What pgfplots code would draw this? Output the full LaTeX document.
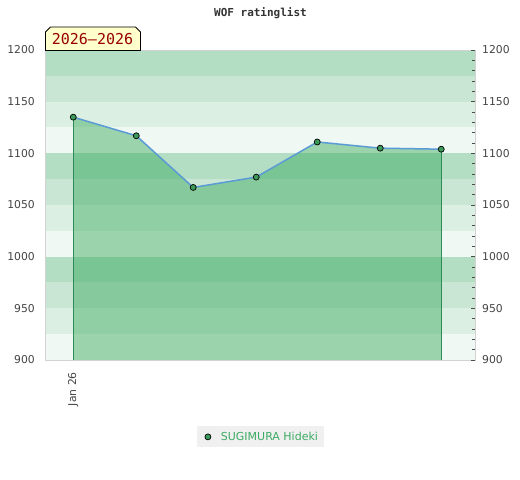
\documentclass[border=0pt]{standalone}
\usepackage{fontspec}
\setmainfont{DejaVu Sans}
\newfontfamily\monofont{DejaVu Sans Mono}
\usepackage{pgfplots}
\pgfplotsset{compat=1.18}
\definecolor{bandA}{HTML}{B3DEC4}
\definecolor{bandB}{HTML}{C9E6D4}
\definecolor{bandC}{HTML}{DCEFE3}
\definecolor{bandD}{HTML}{EFF8F2}
\definecolor{areagreen}{HTML}{3BAA5E}
\definecolor{linegreen}{HTML}{2E8B57}
\definecolor{markgreen}{HTML}{3A9A5A}
\definecolor{lineblue}{HTML}{5B9BD5}
\definecolor{txtgray}{HTML}{444444}
\definecolor{legtxt}{HTML}{3CAA64}
\definecolor{labelyellow}{HTML}{FFFFCC}
\definecolor{darkred}{HTML}{990000}
\begin{document}
\begin{tikzpicture}
\useasboundingbox (0,0) rectangle (520bp,480bp);
\begin{axis}[
  at={(45bp,120bp)}, anchor=south west,
  scale only axis, width=430bp, height=310bp,
  xmin=-13.9, xmax=197.6, ymin=900, ymax=1200,
  axis on top=true,
  axis line style={draw=gray!35},
  ytick={900,950,...,1200},
  xtick={0}, xticklabels={Jan 26},
  tick style={draw=none},
  /pgf/number format/assume math mode=true,
  /pgf/number format/1000 sep={},
  yticklabel pos=left,
  tick label style={font=\fontsize{10.8bp}{13bp}\selectfont, text=txtgray, inner sep=0pt},
  yticklabel shift=10bp,
  x tick label style={rotate=90, anchor=east},
  xticklabel shift=12bp,
  legend style={at={(0.501,-0.248)}, anchor=center, fill=gray!12, draw=none,
    font=\fontsize{11bp}{13bp}\selectfont, text=legtxt, inner xsep=4bp, inner ysep=3.5bp},
  legend cell align=left,
]
\fill[bandA] (axis cs:-13.9,1175) rectangle (axis cs:197.6,1200);
\fill[bandB] (axis cs:-13.9,1150) rectangle (axis cs:197.6,1175);
\fill[bandC] (axis cs:-13.9,1125) rectangle (axis cs:197.6,1150);
\fill[bandD] (axis cs:-13.9,1100) rectangle (axis cs:197.6,1125);
\fill[bandA] (axis cs:-13.9,1075) rectangle (axis cs:197.6,1100);
\fill[bandB] (axis cs:-13.9,1050) rectangle (axis cs:197.6,1075);
\fill[bandC] (axis cs:-13.9,1025) rectangle (axis cs:197.6,1050);
\fill[bandD] (axis cs:-13.9,1000) rectangle (axis cs:197.6,1025);
\fill[bandA] (axis cs:-13.9,975) rectangle (axis cs:197.6,1000);
\fill[bandB] (axis cs:-13.9,950) rectangle (axis cs:197.6,975);
\fill[bandC] (axis cs:-13.9,925) rectangle (axis cs:197.6,950);
\fill[bandD] (axis cs:-13.9,900) rectangle (axis cs:197.6,925);
\addplot[draw=none, fill=areagreen, fill opacity=0.47, forget plot]
  coordinates {(0,1135)(31,1117)(59,1067)(90,1077)(120,1111)(151,1105)(181,1104)} \closedcycle;
\addplot[linegreen, line width=0.8bp, forget plot] coordinates {(0,900)(0,1135)};
\addplot[linegreen, line width=0.8bp, forget plot] coordinates {(181,900)(181,1104)};
\addplot[lineblue, line width=1.5bp, mark=*, mark size=3bp,
  mark options={fill=markgreen, draw=black, line width=0.7bp}, forget plot]
  coordinates {(0,1135)(31,1117)(59,1067)(90,1077)(120,1111)(151,1105)(181,1104)};
\addlegendimage{legend image code/.code={
  \path[draw=none, fill=none] (-7bp,-6bp) rectangle (11bp,6bp);
  \draw[only marks, mark=*, mark size=3bp, mark options={fill=markgreen,draw=black,line width=0.7bp}] plot coordinates {(0bp,0bp)};}}
\addlegendentry{SUGIMURA Hideki}
\end{axis}
\begin{axis}[
  at={(45bp,120bp)}, anchor=south west,
  scale only axis, width=430bp, height=310bp,
  xmin=-13.9, xmax=197.6, ymin=900, ymax=1200,
  axis y line*=right, axis x line=none,
  axis line style={draw=gray!35},
  ytick={900,950,...,1200},
  minor ytick={910,920,...,1190},
  tick align=inside,
  major tick length=4bp, minor tick length=3bp,
  tick style={draw=black!70, line width=0.6bp},
  /pgf/number format/assume math mode=true,
  /pgf/number format/1000 sep={},
  tick label style={font=\fontsize{10.8bp}{13bp}\selectfont, text=txtgray, inner sep=0pt},
  yticklabel shift=7bp,
]
\end{axis}
\node[font=\monofont\bfseries\fontsize{11bp}{13bp}\selectfont, text=black!80] at (260.5bp,467bp) {WOF ratinglist};
\draw[fill=labelyellow, line width=0.8bp] (45.5bp,429.5bp) -- (45.5bp,448bp) -- (50.5bp,453bp) -- (135.5bp,453bp) -- (140.5bp,448bp) -- (140.5bp,429.5bp) -- cycle;
\node[font=\monofont\fontsize{15bp}{18bp}\selectfont, text=darkred] at (92.5bp,440.5bp) {2026–2026};
\end{tikzpicture}
\end{document}
